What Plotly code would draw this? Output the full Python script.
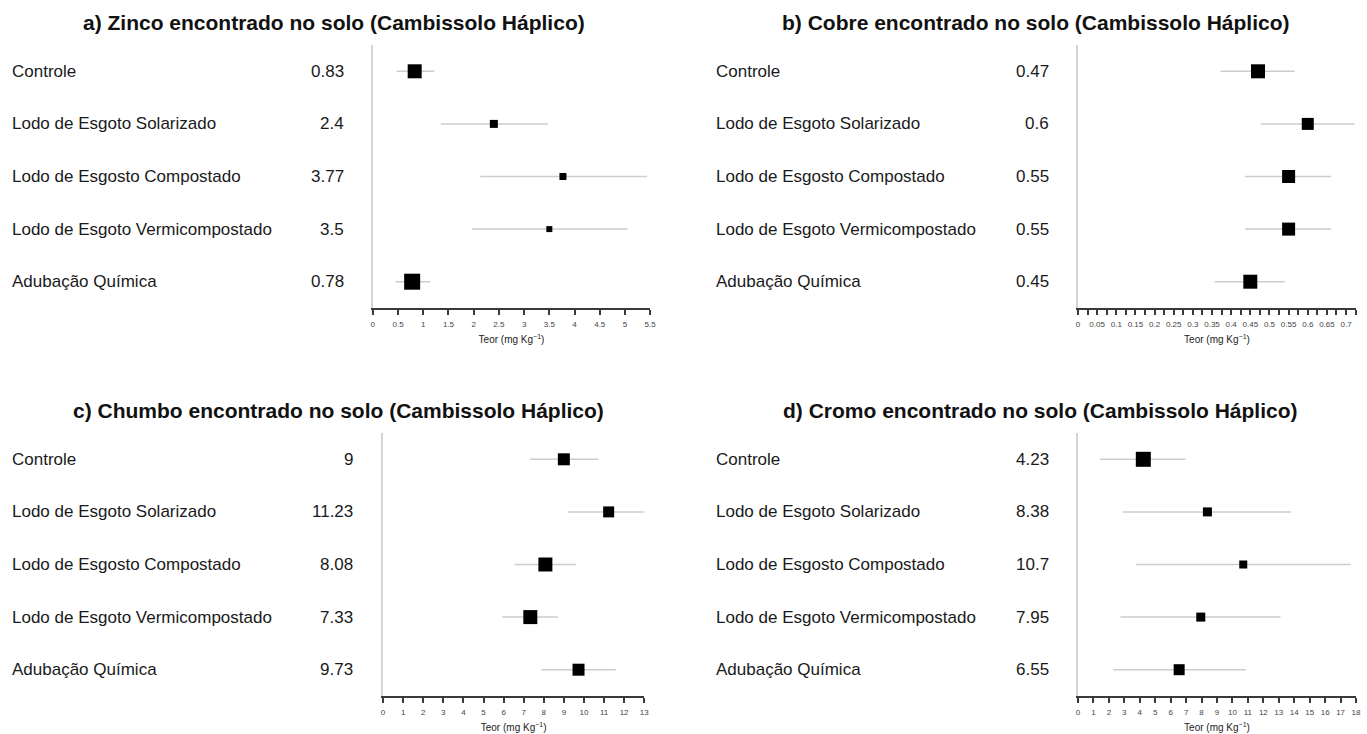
import plotly.graph_objects as go

# Tratamentos (de cima para baixo)
tratamentos = [
    "Controle",
    "Lodo de Esgoto Solarizado",
    "Lodo de Esgosto Compostado",
    "Lodo de Esgoto Vermicompostado",
    "Adubação Química",
]
posicao = [5, 4, 3, 2, 1]

# a) Zinco
zn_media = [0.83, 2.4, 3.77, 3.5, 0.78]
zn_inf = [0.47, 1.35, 2.13, 1.97, 0.45]
zn_sup = [1.22, 3.47, 5.44, 5.05, 1.14]
zn_peso = [14, 8, 7, 6, 16]

# b) Cobre
cu_media = [0.47, 0.6, 0.55, 0.55, 0.45]
cu_inf = [0.372, 0.477, 0.436, 0.436, 0.357]
cu_sup = [0.566, 0.722, 0.661, 0.661, 0.540]
cu_peso = [14, 12, 13, 13, 14]

# c) Chumbo
pb_media = [9, 11.23, 8.08, 7.33, 9.73]
pb_inf = [7.31, 9.19, 6.55, 5.94, 7.89]
pb_sup = [10.72, 13.36, 9.62, 8.71, 11.58]
pb_peso = [12, 11, 14, 14, 12]

# d) Cromo
cr_media = [4.23, 8.38, 10.7, 7.95, 6.55]
cr_inf = [1.42, 2.92, 3.76, 2.75, 2.28]
cr_sup = [6.97, 13.8, 17.66, 13.11, 10.86]
cr_peso = [15, 9, 8, 9, 11]

titulos = [
    "a) Zinco encontrado no solo (Cambissolo Háplico)",
    "b) Cobre encontrado no solo (Cambissolo Háplico)",
    "c) Chumbo encontrado no solo (Cambissolo Háplico)",
    "d) Cromo encontrado no solo (Cambissolo Háplico)",
]

W, H = 1367, 734
FONTE = "Liberation Sans, Arial, sans-serif"


def px_x(p):
    return p / W


def px_y(p):
    return 1 - p / H


paineis = [
    dict(media=zn_media, inf=zn_inf, sup=zn_sup, peso=zn_peso,
         xdom=(373, 652), ydom=(45, 308), xr=(0, 5.5), rot=0.5, menor=None,
         lab_x=8, val_x=346, tit_x=334, tit_y=22),
    dict(media=cu_media, inf=cu_inf, sup=cu_sup, peso=cu_peso,
         xdom=(1082.3, 1362), ydom=(45, 308), xr=(0, 0.726), rot=0.05, menor=0.025,
         lab_x=716, val_x=1055, tit_x=1040, tit_y=22),
    dict(media=pb_media, inf=pb_inf, sup=pb_sup, peso=pb_peso,
         xdom=(383.3, 646), ydom=(433, 696), xr=(0, 13), rot=1, menor=None,
         lab_x=8, val_x=355, tit_x=338, tit_y=410),
    dict(media=cr_media, inf=cr_inf, sup=cr_sup, peso=cr_peso,
         xdom=(1082.3, 1362), ydom=(433, 696), xr=(0, 18), rot=1, menor=None,
         lab_x=716, val_x=1055, tit_x=1045, tit_y=410),
]

fig = go.Figure()
anots = []
layout = {}

for i, p in enumerate(paineis):
    n = "" if i == 0 else str(i + 1)
    xa, ya = "x" + n, "y" + n
    fig.add_trace(go.Scatter(
        x=p["media"], y=posicao, xaxis=xa, yaxis=ya, mode="markers",
        marker=dict(symbol="square", size=p["peso"], color="#000000", opacity=1,
                    line=dict(width=0)),
        error_x=dict(type="data", symmetric=False,
                     array=[s - m for s, m in zip(p["sup"], p["media"])],
                     arrayminus=[m - l for m, l in zip(p["media"], p["inf"])],
                     color="#cdcdcd", thickness=1.5, width=0),
        cliponaxis=False, showlegend=False, hoverinfo="x",
    ))

    eixo_x = dict(
        domain=[px_x(p["xdom"][0]), px_x(p["xdom"][1])], range=list(p["xr"]),
        anchor=ya, showgrid=False, zeroline=False,
        showline=True, linecolor="#3a3a3a", linewidth=1.5,
        ticks="outside", ticklen=5, tickwidth=1.5, tickcolor="#3a3a3a",
        tick0=0, dtick=p["rot"],
        tickfont=dict(size=8, color="#444", family=FONTE), ticklabelstandoff=3,
        title=dict(text="Teor (mg Kg<sup>−1</sup>)",
                   font=dict(size=10, color="#222", family=FONTE), standoff=8),
        fixedrange=True,
    )
    if p["menor"]:
        eixo_x["minor"] = dict(tick0=0, dtick=p["menor"], ticks="outside", ticklen=5,
                               tickwidth=1.5, tickcolor="#3a3a3a", showgrid=False)
    layout["xaxis" + n] = eixo_x
    layout["yaxis" + n] = dict(
        domain=[px_y(p["ydom"][1]), px_y(p["ydom"][0])], range=[0.5, 5.5],
        anchor=xa, showgrid=False, zeroline=False, showticklabels=False, ticks="",
        showline=True, linecolor="#d4d4d4", linewidth=1.5, fixedrange=True,
    )

    # rótulos dos tratamentos e valores médios
    for t, yv, m in zip(tratamentos, posicao, p["media"]):
        anots.append(dict(text=t, x=px_x(p["lab_x"]), xref="paper", y=yv, yref=ya,
                          xanchor="left", yanchor="middle", showarrow=False,
                          font=dict(size=17, color="#1a1a1a", family=FONTE)))
        anots.append(dict(text="{:g}".format(m), x=px_x(p["val_x"]), xref="paper", y=yv, yref=ya,
                          xanchor="right", yanchor="middle", showarrow=False,
                          font=dict(size=17, color="#1a1a1a", family=FONTE)))

    anots.append(dict(text="<b>" + titulos[i] + "</b>", x=px_x(p["tit_x"]), y=px_y(p["tit_y"]),
                      xref="paper", yref="paper", xanchor="center", yanchor="middle",
                      showarrow=False, font=dict(size=21, color="#111", family=FONTE)))

fig.update_layout(
    width=W, height=H, autosize=False,
    margin=dict(l=0, r=0, t=0, b=0),
    paper_bgcolor="white", plot_bgcolor="white",
    annotations=anots, showlegend=False,
    **layout,
)

fig.write_html("out.html", config={"displayModeBar": False})
